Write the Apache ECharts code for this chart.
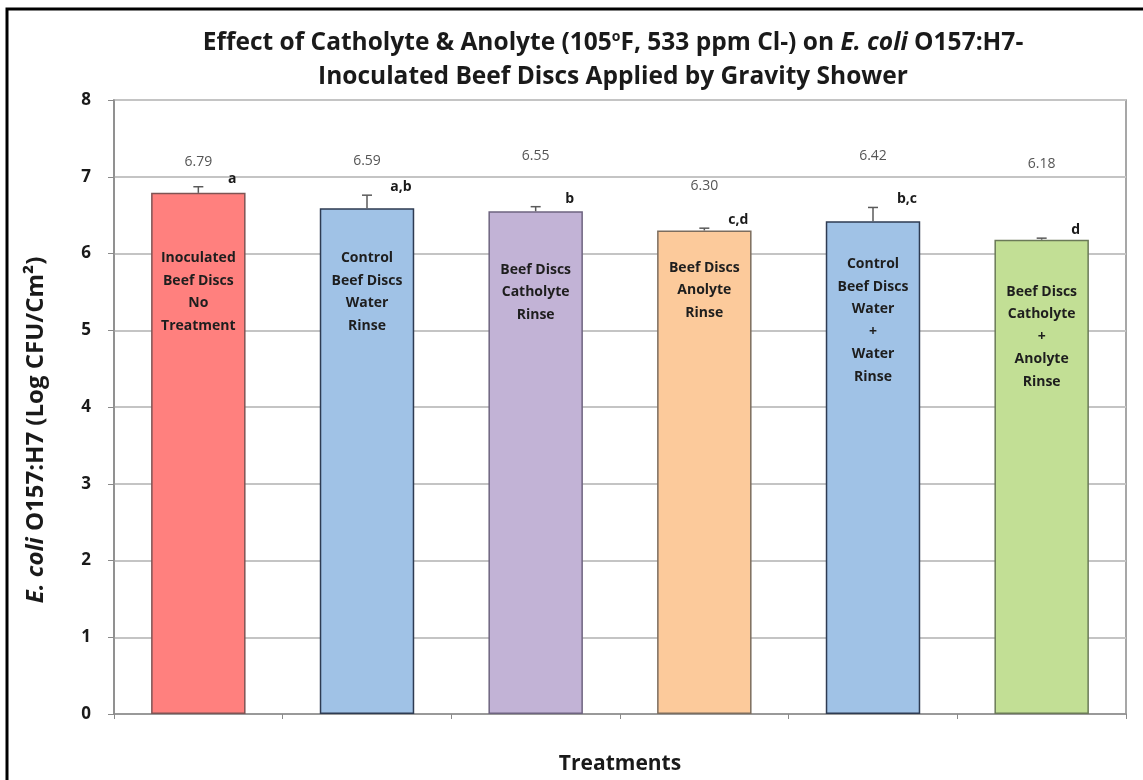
<!DOCTYPE html>
<html>
<head>
<meta charset="utf-8">
<script src="https://cdn.jsdelivr.net/npm/echarts@6/dist/echarts.min.js"></script>
<style>
html,body{margin:0;padding:0;background:#fff;}
#chart{width:1143px;height:780px;}
</style>
</head>
<body>
<div id="chart"></div>
<script>
// ---- data ----
var categories = [
  'Inoculated\nBeef Discs\nNo\nTreatment',
  'Control\nBeef Discs\nWater\nRinse',
  'Beef Discs\nCatholyte\nRinse',
  'Beef Discs\nAnolyte\nRinse',
  'Control\nBeef Discs\nWater\n+\nWater\nRinse',
  'Beef Discs\nCatholyte\n+\nAnolyte\nRinse'
];
var means = [6.79, 6.59, 6.55, 6.30, 6.42, 6.18];
var errors = [0.08, 0.17, 0.06, 0.03, 0.18, 0.02];
var letters = ['a', 'a,b', 'b', 'c,d', 'b,c', 'd'];
var yTicks = [0, 1, 2, 3, 4, 5, 6, 7, 8];

// ---- styles / layout ----
var fills   = ['#FF807E', '#A0C2E6', '#C2B3D6', '#FCCA9B', '#A0C2E6', '#C2DF95'];
var borders = ['#7E5454', '#2E3B52', '#6E6480', '#7C6D5E', '#2E3B52', '#6B7A58'];
var textPad = [54, 39, 47, 26, 32, 41];      // px from bar top to first text line
var valueLift = [25, 34, 51, 42, 51, 74];    // px from error cap to value label
var FONT = '"Open Sans", Lato, "DejaVu Sans", sans-serif';

var chart = echarts.init(document.getElementById('chart'));

var barData = means.map(function (v, i) {
  return {
    value: v,
    itemStyle: { color: fills[i], borderColor: borders[i], borderWidth: 1.5 },
    label: { offset: [0, textPad[i] - 5] }
  };
});

var errData = means.map(function (v, i) { return [i, v, v + errors[i]]; });

var option = {
  backgroundColor: '#fff',
  animation: false,
  title: {
    left: 608,
    top: 21,
    textAlign: 'center',
    text: '{t|Effect of Catholyte & Anolyte (105}{s|o}{t|F, 533 ppm Cl-) on }{i|E. coli}{t| O157:H7-}\n{t|Inoculated Beef Discs Applied by Gravity Shower}',
    textStyle: {
      fontFamily: FONT,
      rich: {
        t: { fontFamily: FONT, fontSize: 24.5, fontWeight: 'bold', color: '#1a1a1a', lineHeight: 34 },
        i: { fontFamily: FONT, fontSize: 24.5, fontWeight: 'bold', fontStyle: 'italic', color: '#1a1a1a', lineHeight: 34 },
        s: { fontFamily: FONT, fontSize: 14, fontWeight: 'bold', color: '#1a1a1a', padding: [0, 0, 12, 0], lineHeight: 34 }
      }
    }
  },
  graphic: [{
    type: 'rect',
    shape: { x: 7, y: 9, width: 1200, height: 820 },
    style: { fill: 'none', stroke: '#000', lineWidth: 3 },
    silent: true,
    z: 100
  }],
  grid: {
    left: 114, right: 17, top: 100, bottom: 58,
    show: true, borderColor: '#8a8a8a', borderWidth: 1.5, backgroundColor: 'transparent'
  },
  xAxis: {
    type: 'category',
    data: categories,
    name: 'Treatments',
    nameLocation: 'middle',
    nameGap: 40,
    nameTextStyle: { fontFamily: FONT, fontSize: 21, fontWeight: 'bold', color: '#1a1a1a' },
    axisLine: { lineStyle: { color: '#8a8a8a', width: 1.5 } },
    axisTick: { show: true, length: 5, lineStyle: { color: '#8a8a8a' } },
    axisLabel: { show: false }
  },
  yAxis: {
    type: 'value',
    min: yTicks[0],
    max: yTicks[yTicks.length - 1],
    interval: 1,
    name: '{i|E. coli}{t| O157:H7 (Log CFU/Cm²)}',
    nameLocation: 'middle',
    nameGap: 66,
    nameRotate: 90,
    nameTextStyle: {
      padding: [0, 46, 0, 0],
      rich: {
        t: { fontFamily: FONT, fontSize: 24, fontWeight: 'bold', color: '#1a1a1a' },
        i: { fontFamily: FONT, fontSize: 24, fontWeight: 'bold', fontStyle: 'italic', color: '#1a1a1a' }
      }
    },
    axisLine: { show: true, lineStyle: { color: '#8a8a8a', width: 1.5 } },
    axisTick: { show: true, length: 6, lineStyle: { color: '#8a8a8a' } },
    axisLabel: { fontFamily: FONT, fontSize: 17, fontWeight: 'bold', color: '#1a1a1a', margin: 23 },
    splitLine: { lineStyle: { color: '#c4c4c4', width: 2 } }
  },
  series: [
    {
      type: 'bar',
      data: barData,
      barWidth: '56%',
      label: {
        show: true,
        position: 'insideTop',
        formatter: function (p) { return categories[p.dataIndex]; },
        fontFamily: FONT,
        fontSize: 14,
        fontWeight: 'bold',
        color: '#1e1e1e',
        lineHeight: 22.5,
        align: 'center'
      },
      z: 2
    },
    {
      type: 'custom',
      data: errData,
      z: 5,
      renderItem: function (params, api) {
        var i = api.value(0);
        var base = api.coord([i, api.value(1)]);
        var top = api.coord([i, api.value(2)]);
        var cx = base[0];
        var capHalf = 5;
        return {
          type: 'group',
          children: [
            { type: 'line', shape: { x1: cx, y1: base[1], x2: cx, y2: top[1] }, style: { stroke: '#5a5a5a', lineWidth: 1.5 } },
            { type: 'line', shape: { x1: cx - capHalf, y1: top[1], x2: cx + capHalf, y2: top[1] }, style: { stroke: '#5a5a5a', lineWidth: 1.5 } },
            { type: 'text', style: { x: cx, y: top[1] - valueLift[i], text: means[i].toFixed(2), textAlign: 'center', textVerticalAlign: 'middle', font: '14px ' + FONT, fill: '#555' } },
            { type: 'text', style: { x: cx + 34, y: top[1] - 8, text: letters[i], textAlign: 'center', textVerticalAlign: 'middle', font: 'bold 14px ' + FONT, fill: '#1a1a1a' } }
          ]
        };
      }
    }
  ]
};
chart.setOption(option);
</script>
</body>
</html>
